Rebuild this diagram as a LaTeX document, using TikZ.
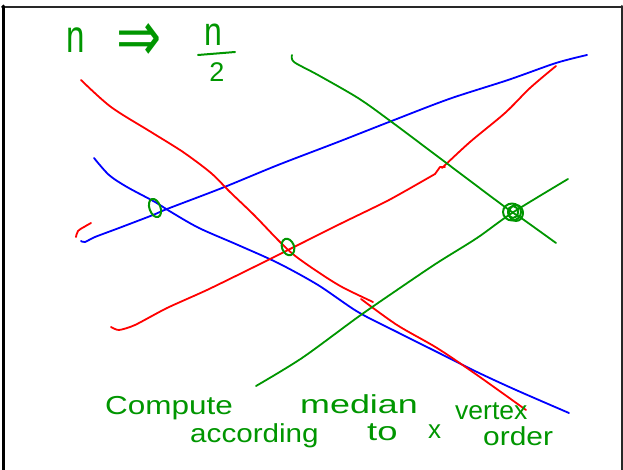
\documentclass[tikz,border=0pt]{standalone}
\usepackage{fontspec}
\setmainfont{Liberation Sans}
\newfontfamily\symfont{DejaVu Sans}
\usepackage{graphicx}
\definecolor{grn}{RGB}{0,150,0}
\definecolor{rd}{RGB}{255,0,0}
\definecolor{bl}{RGB}{0,0,255}
\definecolor{frm}{RGB}{40,40,40}
\begin{document}
\begin{tikzpicture}[x=1pt,y=-1pt, line cap=round, line join=round,
  pen/.style={line width=1.8pt},
  ring/.style={grn, line width=2pt},
  hw/.style={text=grn, font=\fontsize{26}{30}\selectfont, inner sep=0pt, anchor=base west},
  big/.style={text=grn, inner sep=0pt}]
\fill[white] (0,0) rectangle (623,470);
\useasboundingbox (0,0) rectangle (623,470);
% frame
\draw[frm, line width=2pt] (2,7) -- (622,7);
\draw[black, line width=3pt] (3.5,6) -- (3.5,470);
\draw[frm, line width=2pt] (621.5,6) -- (621.5,470);

% blue rising
\draw[bl, pen] plot[smooth, tension=0.5] coordinates {(81,241) (85,242) (95,237) (119,228) (153,215) (167,209) (222,188) (278,165) (338,142) (389,122) (449,99) (508,80) (556,63) (587,55)};
% blue falling
\draw[bl, pen] plot[smooth, tension=0.5] coordinates {(94,158) (109,175) (127,187) (155,202) (171,212) (199,228) (238,245) (278,263) (318,285) (358,312) (397,332) (437,352) (477,372) (516,390) (569,413)};
% red falling
\draw[rd, pen] plot[smooth, tension=0.5] coordinates {(81,80) (111,107) (151,132) (183,152) (211,173) (230,192) (254,215) (278,240) (294,255) (318,272) (342,287) (373,302)};
\draw[rd, pen] plot[smooth, tension=0.5] coordinates {(361,299) (397,325) (437,348) (477,375) (526,410)};
% red rising
\draw[rd, pen] plot[smooth, tension=0.4] coordinates {(111,327) (119,330) (135,325) (167,308) (207,290) (254,267) (294,247) (342,223) (389,200) (435,174)};
\draw[rd, pen] (435,174) -- (440,167) -- (445,167);
\draw[rd, pen] plot[smooth, tension=0.5] coordinates {(442,168) (470,142) (505,113) (530,88) (556,66)};
% small red mark
\draw[rd, pen] plot[smooth, tension=0.6] coordinates {(76,237) (78,231) (84,227) (91,223)};
% green falling
\draw[grn, pen] plot[smooth, tension=0.5] coordinates {(292,55) (294,62) (318,75) (358,98) (389,120) (445,162) (505,207) (524,220) (556,243)};
% green rising
\draw[grn, pen] plot[smooth, tension=0.5] coordinates {(256,386) (302,358) (358,317) (397,290) (437,263) (477,238) (512,213) (568,179)};

% green rings
\draw[ring, rotate around={20:(155,208)}] (155,208) ellipse [x radius=5.5, y radius=9.5];
\draw[ring, rotate around={20:(288,247)}] (288,247) ellipse [x radius=6, y radius=8.5];
\draw[ring] (512,212) ellipse [x radius=9, y radius=8.5];
\draw[ring] (516,213) ellipse [x radius=7, y radius=8];
\draw[ring] (513,212) ellipse [x radius=5, y radius=6];

% top formula
\node[big, font=\fontsize{46}{50}\selectfont, anchor=base west] (n1) at (66,53) {\scalebox{0.72}[1]{n}};
\node[big, font=\symfont\fontsize{40}{50}\selectfont] (arr) at (139,43) {\scalebox{1.35}[1.8]{⇒}};
\node[big, font=\fontsize{40}{44}\selectfont, anchor=base] (n2) at (213,46) {\scalebox{0.8}[1]{n}};
\draw[grn, line width=2pt] (198,55) -- (235,52);
\node[big, font=\fontsize{27}{30}\selectfont, anchor=base] (two) at (217,82) {2};

% bottom text
\node[hw] (w1) at (105,414) {\scalebox{1.21}[1]{Compute}};
\node[hw] (w2) at (300,413) {\scalebox{1.38}[1]{median}};
\node[hw] (w3) at (455,419) {\scalebox{1.02}[1]{vertex}};
\node[hw] (w4) at (190,442) {\scalebox{1.14}[1]{according}};
\node[hw] (w5) at (367,440) {\scalebox{1.4}[1]{to}};
\node[hw] (w6) at (428,438) {x};
\node[hw] (w7) at (483,445) {\scalebox{1.15}[1]{order}};
\end{tikzpicture}
\end{document}
